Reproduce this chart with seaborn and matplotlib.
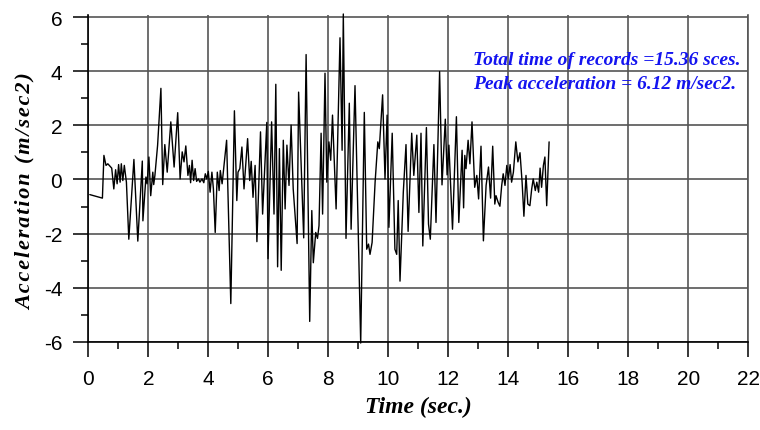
import matplotlib
matplotlib.use('Agg')
import matplotlib.pyplot as plt
from matplotlib import font_manager
from matplotlib.ticker import MultipleLocator
import seaborn as sns

# Registro de aceleraciones
tiempo = [0.05, 0.47, 0.52, 0.59, 0.65, 0.78, 0.85, 0.91, 0.96, 1.01, 1.06, 1.10, 1.15, 1.20, 1.27,
          1.35, 1.52, 1.65, 1.80, 1.82, 1.92, 1.96, 2.02, 2.08, 2.15, 2.18, 2.22, 2.31, 2.42, 2.48,
          2.55, 2.63, 2.75, 2.86, 2.98, 3.06, 3.13, 3.19, 3.25, 3.32, 3.37, 3.41, 3.46, 3.51, 3.56,
          3.61, 3.67, 3.72, 3.79, 3.85, 3.90, 3.95, 4.00, 4.06, 4.12, 4.17, 4.23, 4.30, 4.36, 4.40,
          4.46, 4.50, 4.61, 4.75, 4.87, 4.95, 4.99, 5.05, 5.12, 5.19, 5.31, 5.38, 5.43, 5.49, 5.56,
          5.62, 5.74, 5.81, 5.95, 5.99, 6.11, 6.19, 6.25, 6.31, 6.37, 6.43, 6.50, 6.56, 6.62, 6.69,
          6.76, 6.83, 6.96, 7.01, 7.18, 7.26, 7.38, 7.45, 7.50, 7.58, 7.64, 7.69, 7.76, 7.81, 7.89,
          7.95, 8.02, 8.08, 8.14, 8.26, 8.39, 8.46, 8.50, 8.59, 8.70, 8.76, 8.89, 8.97, 9.08, 9.20,
          9.28, 9.34, 9.39, 9.46, 9.56, 9.65, 9.70, 9.81, 9.89, 9.96, 10.02, 10.13, 10.22, 10.28, 10.33,
          10.39, 10.50, 10.59, 10.66, 10.78, 10.85, 10.95, 11.02, 11.09, 11.15, 11.27, 11.34, 11.40, 11.52, 11.59,
          11.71, 11.79, 11.90, 11.96, 12.02, 12.14, 12.27, 12.35, 12.46, 12.51, 12.55, 12.59, 12.66, 12.72, 12.79,
          12.88, 12.95, 13.01, 13.09, 13.17, 13.26, 13.34, 13.41, 13.48, 13.55, 13.59, 13.66, 13.72, 13.78, 13.83,
          13.89, 13.95, 14.00, 14.06, 14.11, 14.17, 14.25, 14.32, 14.39, 14.46, 14.52, 14.59, 14.65, 14.72, 14.78,
          14.83, 14.90, 14.95, 15.01, 15.06, 15.11, 15.17, 15.22, 15.28, 15.36]
aceleracion = [-0.56, -0.69, 0.89, 0.52, 0.58, 0.42, -0.35, 0.36, -0.16, 0.55, -0.10, 0.58, -0.04, 0.52, -0.10,
               -2.21, 0.74, -2.28, 0.68, -1.53, 0.09, -0.16, 0.83, -0.60, 0.27, -0.19, 0.15, 1.27, 3.37, -0.19,
               1.29, 0.27, 2.13, 0.46, 2.47, 0.02, 1.02, 0.65, 1.24, 0.15, 0.52, -0.12, 0.71, -0.04, 0.40,
               -0.07, 0.02, -0.10, 0.02, -0.12, 0.21, 0.02, 0.30, -0.47, 0.27, -0.35, -1.96, 0.27, -0.41, 0.33,
               -0.16, 0.27, 1.45, -4.59, 2.54, -0.78, 0.27, 0.40, 1.20, -0.35, 1.51, -0.04, 0.67, -0.66, 0.52,
               -2.30, 1.76, -1.28, 2.11, -2.93, 2.13, -1.28, 3.52, -3.23, 1.14, -3.36, 1.45, -1.09, 1.27, -0.22,
               2.01, -0.35, -2.37, 3.23, -2.16, 4.62, -5.25, -1.15, -3.08, -1.96, -2.18, -1.71, 1.71, -1.28, 3.93,
               -0.10, 1.39, 0.71, 2.38, -1.09, 5.24, 1.08, 6.12, -2.18, 2.82, -1.84, 3.47, -0.60, -6.05, 2.48,
               -2.58, -2.39, -2.77, -2.33, -0.10, 1.39, 1.14, 3.13, 0.02, 2.38, -1.77, 1.71, -2.58, -2.77, -0.78,
               -3.76, -0.47, 1.29, -1.92, 1.71, 0.15, 1.64, -1.22, 1.71, -2.46, 1.92, -1.65, -2.21, 1.29, -1.59,
               3.99, -0.20, 2.23, 0.17, 1.27, -1.84, 2.32, -1.59, 1.08, -1.05, 0.89, 0.40, 1.45, 0.58, 2.13,
               -0.29, 0.15, -0.72, 1.23, -2.27, -0.22, 0.46, -0.69, 1.23, -0.91, -0.60, -0.84, -0.99, -0.22, 0.21,
               -0.22, 0.52, 0.02, 0.55, -0.10, 0.27, 1.39, 0.65, 0.99, -0.10, -1.36, 0.15, -0.91, -0.97, -0.35,
               0.02, -0.41, -0.10, -0.47, 0.42, -0.29, 0.52, 0.83, -0.97, 1.39]

x_ticks = list(range(0, 23, 2))
y_ticks = list(range(-6, 7, 2))
nota_1 = 'Total time of records =15.36 sces.'
nota_2 = 'Peak acceleration = 6.12 m/sec2.'

sns.set_style('white')
nombres = {f.name for f in font_manager.fontManager.ttflist}
if 'Liberation Sans Narrow' in nombres:
    fuente_ticks, tam_ticks = 'Liberation Sans Narrow', 16
else:
    fuente_ticks, tam_ticks = 'Liberation Sans', 15
plt.rcParams['font.family'] = ['Liberation Serif', 'DejaVu Serif']
plt.rcParams['axes.unicode_minus'] = False

fig = plt.figure(figsize=(7.6, 4.31), dpi=100)
ax = fig.add_axes([0.1162, 0.2049, 0.8684, 0.7578])

# Grilla
ax.grid(True, which='major', color='#555555', linewidth=1.2)
ax.set_axisbelow(True)

sns.lineplot(x=tiempo, y=aceleracion, color='black', linewidth=1.0,
             estimator=None, sort=False, ax=ax, clip_on=False, zorder=3)

ax.set_xlim(0, 22)
ax.set_ylim(-6, 6.08)
ax.set_xticks(x_ticks)
ax.set_yticks(y_ticks)
ax.xaxis.set_minor_locator(MultipleLocator(1))
ax.yaxis.set_minor_locator(MultipleLocator(1))
ax.tick_params(which='both', bottom=True, left=True, top=False, right=False)
ax.tick_params(which='major', direction='out', length=10.8, width=1.1, color='black',
               labelsize=tam_ticks, labelcolor='black', pad=9)
ax.tick_params(which='minor', direction='out', length=5, width=1.1, color='black')
ax.tick_params(axis='y', pad=8)
for lab in ax.get_xticklabels() + ax.get_yticklabels():
    lab.set_fontfamily([fuente_ticks, 'DejaVu Sans'])

for lado in ['left', 'bottom']:
    ax.spines[lado].set_color('black')
    ax.spines[lado].set_linewidth(1.2)
ax.spines['top'].set_visible(False)
ax.spines['right'].set_color('#555555')
ax.spines['right'].set_linewidth(1.2)

ax.set_xlabel('Time (sec.)', fontsize=17, fontweight='bold', fontstyle='italic', color='black')
ax.set_ylabel('\u200a'.join('Acceleration (m/sec2)'), fontsize=16, fontweight='bold',
              fontstyle='italic', color='black')
ax.xaxis.set_label_coords(0.5, -0.166)
ax.yaxis.set_label_coords(-0.08, 0.461)

ax.text(12.82, 4.45, nota_1, color='#1414f0', fontsize=14, fontweight='bold',
        fontstyle='italic', ha='left', va='center')
ax.text(12.82, 3.56, nota_2, color='#1414f0', fontsize=14, fontweight='bold',
        fontstyle='italic', ha='left', va='center')

fig.savefig('out.png', dpi=100)
